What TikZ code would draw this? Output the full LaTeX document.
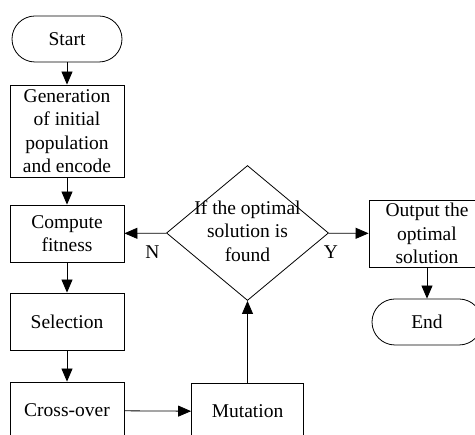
\documentclass[tikz,border=0pt]{standalone}
\usepackage{fontspec}
\setmainfont{Liberation Serif}
\usetikzlibrary{arrows.meta}
\usetikzlibrary{shapes.geometric}
\newcommand{\flowfont}{\fontsize{19.5}{23.5}\selectfont}

\begin{document}
\begin{tikzpicture}[x=1pt, y=-1pt, line width=.8pt, font=\flowfont,
        >={Triangle[length=13pt,width=11pt]},
        box/.style={draw, rectangle, inner sep=0pt, align=center, minimum width=114pt, minimum height=57pt},
        term/.style={draw, rectangle, rounded corners=23pt, inner sep=0pt, minimum width=110pt, minimum height=46pt},
        dec/.style={draw, diamond, inner sep=0pt, minimum width=162pt, minimum height=135pt}]
            \clip (0,0) rectangle (475,435);
            \node[term] (start) at (67,39) {Start};
            \node[box, minimum height=92pt] (gen) at (67,131) {Generation\\of initial\\population\\and encode};
            \node[box] (comp) at (67,233.5) {Compute\\fitness};
            \node[box] (sel) at (67,321.5) {Selection};
            \node[box] (cross) at (67,410.5) {Cross-over};
            \node[box, minimum width=112pt] (mut) at (247.5,411.5) {Mutation};
            \node[dec] (check) at (247.5,233) {};
            \node[align=center] (checktxt) at (247.5,231) {If the optimal\\solution is\\found};
            \node[box, minimum width=116pt, minimum height=67pt] (out) at (427,233.5) {Output the\\optimal\\solution};
            \node[term] (end) at (427,322) {End};
            \draw[->] (start) -- (gen);
            \draw[->] (gen) -- (comp);
            \draw[->] (comp) -- (sel);
            \draw[->] (sel) -- (cross);
            \draw[->] (cross) -- (mut);
            \draw[->] (mut) -- (check);
            \draw[->] (check) -- (comp) node[below=9pt, pos=.33] {N};
            \draw[->] (check) -- (out) node[below=9pt, pos=.06] {Y};
            \draw[->] (out) -- (end);
        \end{tikzpicture}
\end{document}
